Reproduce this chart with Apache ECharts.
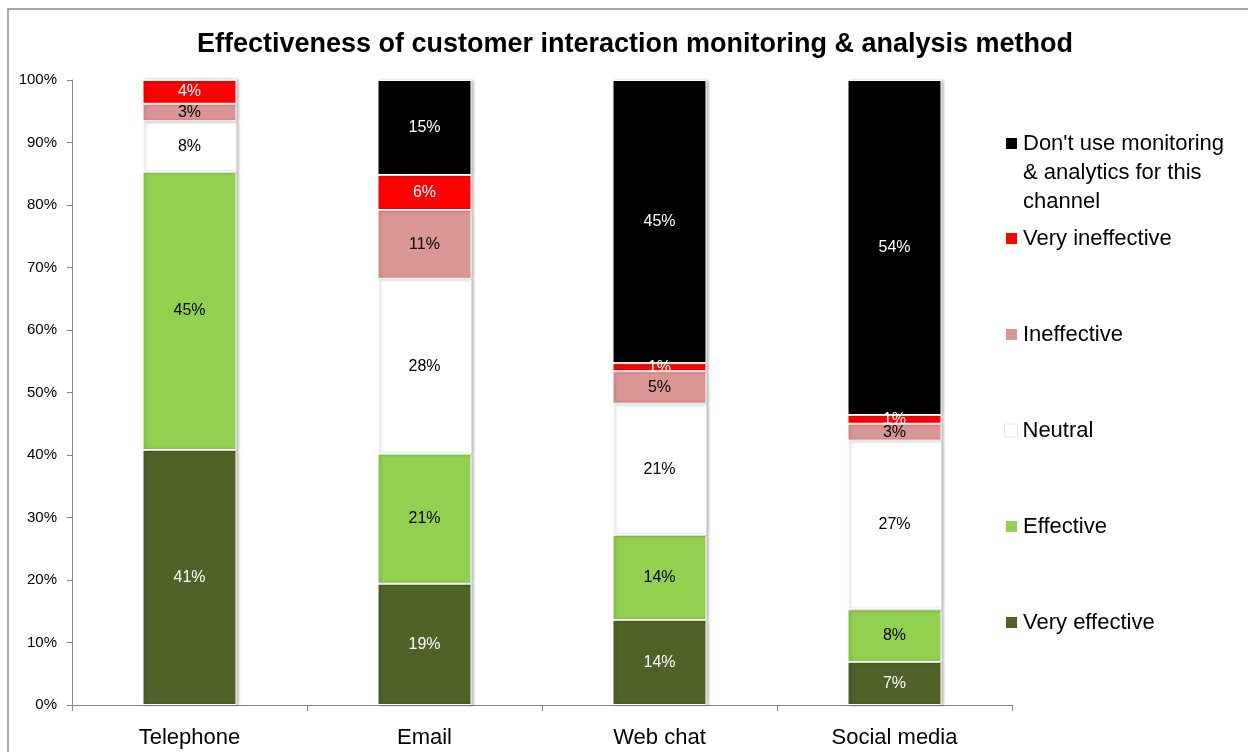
<!DOCTYPE html>
<html>
<head>
<meta charset="utf-8">
<script src="https://cdn.jsdelivr.net/npm/echarts@6/dist/echarts.min.js"></script>
<style>
  html, body { margin: 0; padding: 0; background: #fff; }
  #main { width: 1248px; height: 752px; }
</style>
</head>
<body>
<div id="main"></div>
<script>
// categories and values (percent of respondents)
var channels = ['Telephone', 'Email', 'Web chat', 'Social media'];
var veryEffective   = [40.8, 19.4, 13.6, 6.9];
var effective       = [44.5, 20.8, 13.6, 8.4];
var neutral         = [8.1, 28.0, 21.0, 27.0];
var ineffective     = [2.8, 11.0, 5.2, 2.7];
var veryIneffective = [3.8, 5.6, 1.3, 1.4];
var dontUse         = [0, 15.2, 45.3, 53.6];
var yTicks = [0, 10, 20, 30, 40, 50, 60, 70, 80, 90, 100];

var FONT = 'Liberation Sans';
var myChart = echarts.init(document.getElementById('main'));

function seg(name, data, color, labelColor) {
    return {
        name: name,
        type: 'bar',
        stack: 'total',
        barWidth: '40%',
        data: data,
        itemStyle: {
            color: color,
            borderColor: '#fff',
            borderWidth: 1,
            shadowColor: 'rgba(0,0,0,0.28)',
            shadowBlur: 3,
            shadowOffsetX: 2
        },
        label: {
            show: true,
            position: 'inside',
            color: labelColor,
            fontFamily: FONT,
            fontSize: 16,
            formatter: function (p) { return p.value > 0 ? Math.round(p.value) + '%' : ''; }
        },
        emphasis: { disabled: true }
    };
}

var DONT = "Don't use monitoring & analytics for this channel";

// one legend per entry so the spacing follows the original
var legendEntries = [
    { name: DONT, top: 129, text: "Don't use monitoring" },
    { name: 'Very ineffective', top: 224 },
    { name: 'Ineffective', top: 320 },
    { name: 'Neutral', top: 416 },
    { name: 'Effective', top: 512 },
    { name: 'Very effective', top: 608 }
];
var legends = legendEntries.map(function (e) {
    var lg = {
        orient: 'vertical',
        left: 1004,
        top: e.top,
        icon: 'rect',
        itemWidth: 13,
        itemHeight: 13,
        itemGap: 0,
        padding: 0,
        selectedMode: false,
        data: [{ name: e.name, itemStyle: e.name === 'Neutral' ? { borderColor: '#e6e6e6', borderWidth: 1 } : {} }],
        textStyle: { fontFamily: FONT, fontSize: 22, color: '#000', lineHeight: 29 }
    };
    if (e.text) {
        lg.formatter = function () { return e.text; };
    }
    return lg;
});

var option = {
    animation: false,
    title: {
        text: 'Effectiveness of customer interaction monitoring & analysis method',
        left: 630,
        textAlign: 'center',
        top: 26,
        textStyle: { fontFamily: FONT, fontSize: 27, fontWeight: 'bold', color: '#000' }
    },
    graphic: [{
        type: 'rect',
        shape: { x: 8, y: 9, width: 1400, height: 900 },
        style: { fill: 'none', stroke: '#8c8c8c', lineWidth: 1.5 },
        silent: true
    }, {
        // rest of the wrapped legend entry
        type: 'text',
        left: 1023,
        top: 158,
        style: {
            text: '& analytics for this\nchannel',
            fontFamily: FONT,
            fontSize: 22,
            lineHeight: 29,
            fill: '#000'
        },
        silent: true
    }],
    legend: legends,
    grid: { left: 72, right: 236, top: 80, bottom: 47 },
    xAxis: {
        type: 'category',
        data: channels,
        axisLine: { lineStyle: { color: '#868686' } },
        axisTick: { show: true, length: 6, lineStyle: { color: '#868686' } },
        axisLabel: { color: '#000', fontFamily: FONT, fontSize: 22, margin: 22 }
    },
    yAxis: {
        type: 'value',
        min: yTicks[0],
        max: yTicks[yTicks.length - 1],
        interval: 10,
        axisLine: { show: true, lineStyle: { color: '#868686' } },
        axisTick: { show: true, length: 5, lineStyle: { color: '#868686' } },
        splitLine: { show: false },
        axisLabel: { color: '#000', fontFamily: FONT, fontSize: 15, margin: 15, formatter: '{value}%' }
    },
    series: [
        seg('Very effective', veryEffective, '#4F6228', '#fff'),
        seg('Effective', effective, '#92D050', '#000'),
        seg('Neutral', neutral, '#FFFFFF', '#000'),
        seg('Ineffective', ineffective, '#DA9694', '#000'),
        seg('Very ineffective', veryIneffective, '#FF0000', '#fff'),
        seg(DONT, dontUse, '#000000', '#fff')
    ]
};

myChart.setOption(option);
</script>
</body>
</html>
